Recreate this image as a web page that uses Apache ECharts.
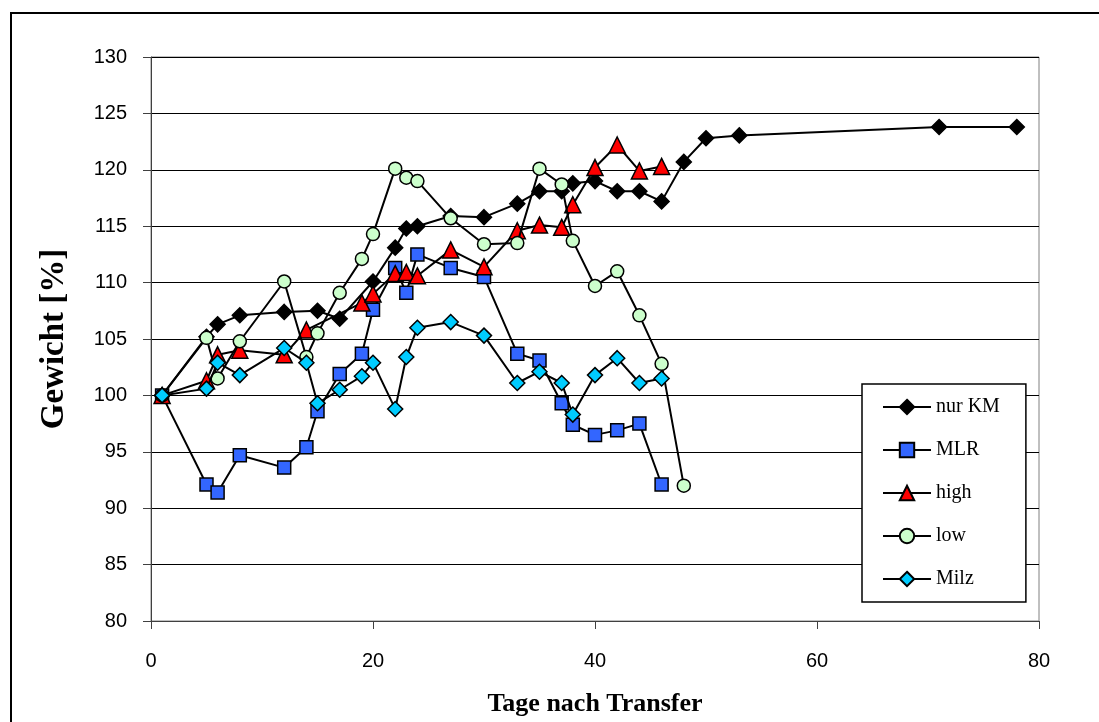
<!DOCTYPE html>
<html>
<head>
<meta charset="utf-8">
<script src="https://cdn.jsdelivr.net/npm/echarts@6/dist/echarts.min.js"></script>
<style>html,body{margin:0;padding:0;background:#fff;}#c{width:1099px;height:722px;}</style>
</head>
<body>
<div id="c"></div>
<script>
const seriesNames = ['nur KM', 'MLR', 'high', 'low', 'Milz'];
const xTitle = 'Tage nach Transfer';
const yTitle = 'Gewicht [%]';

const nurKM = [[1,100],[5,105.2],[6,106.3],[8,107.1],[12,107.4],[15,107.5],[17,106.8],[20,110.1],[22,113.1],[23,114.8],[24,115],[27,115.9],[30,115.8],[33,117],[35,118.1],[37,118.1],[38,118.8],[40,119],[42,118.1],[44,118.1],[46,117.2],[48,120.7],[50,122.8],[53,123.05],[71,123.8],[78,123.8]];
const mlr = [[1,100],[5,92.1],[6,91.4],[8,94.7],[12,93.6],[14,95.4],[15,98.6],[17,101.9],[19,103.7],[20,107.6],[22,111.3],[23,109.1],[24,112.5],[27,111.3],[30,110.5],[33,103.7],[35,103.1],[37,99.3],[38,97.4],[40,96.5],[42,96.9],[44,97.5],[46,92.1]];
const high = [[1,100],[5,101.3],[6,103.6],[8,104],[12,103.6],[14,105.8],[19,108.2],[20,109],[22,110.8],[23,110.9],[24,110.6],[27,112.9],[30,111.4],[33,114.6],[35,115.1],[37,114.9],[38,116.9],[40,120.2],[42,122.2],[44,119.9],[46,120.3]];
const low = [[1,100],[5,105.1],[6,101.5],[8,104.8],[12,110.1],[14,103.4],[15,105.5],[17,109.1],[19,112.1],[20,114.3],[22,120.1],[23,119.3],[24,119],[27,115.7],[30,113.4],[33,113.5],[35,120.1],[37,118.7],[38,113.7],[40,109.7],[42,111],[44,107.1],[46,102.8],[48,92]];
const milz = [[1,100],[5,100.6],[6,102.9],[8,101.8],[12,104.2],[14,102.9],[15,99.3],[17,100.5],[19,101.7],[20,102.9],[22,98.8],[23,103.4],[24,106],[27,106.5],[30,105.3],[33,101.1],[35,102.1],[37,101.1],[38,98.3],[40,101.8],[42,103.3],[44,101.1],[46,101.5]];

const datasets = [nurKM, mlr, high, low, milz];
const colors = ['#000000', '#3366FF', '#FF0000', '#CCFFCC', '#00CCFF'];
const symbols = ['diamond', 'rect', 'triangle', 'circle', 'diamond'];
const sizes = [15, 13, 16, 13, 15];

const chart = echarts.init(document.getElementById('c'), null, {renderer: 'canvas'});
const option = {
  animation: false,
  backgroundColor: '#ffffff',
  grid: {left: 151, right: 60, top: 57, bottom: 100, show: true, borderColor: '#808080', borderWidth: 1},
  xAxis: {
    type: 'value', min: 0, max: 80, interval: 20,
    name: xTitle, nameLocation: 'middle', nameGap: 70,
    nameTextStyle: {fontFamily: 'Liberation Serif', fontWeight: 'bold', fontSize: 26, color: '#000'},
    axisLine: {show: true, lineStyle: {color: '#404040', width: 1}},
    axisTick: {show: true, inside: false, length: 8, lineStyle: {color: '#404040'}},
    axisLabel: {fontFamily: 'Liberation Sans', fontSize: 20, color: '#000', margin: 30},
    splitLine: {show: false}
  },
  yAxis: {
    type: 'value', min: 80, max: 130, interval: 5,
    name: yTitle, nameLocation: 'middle', nameGap: 80, nameRotate: 90,
    nameTextStyle: {fontFamily: 'Liberation Serif', fontWeight: 'bold', fontSize: 33, color: '#000'},
    axisLine: {show: true, lineStyle: {color: '#404040', width: 1}},
    axisTick: {show: true, inside: false, length: 8, lineStyle: {color: '#404040'}},
    axisLabel: {fontFamily: 'Liberation Sans', fontSize: 20, color: '#000', margin: 24},
    splitLine: {show: true, lineStyle: {color: '#000', width: 1}}
  },
  legend: {
    orient: 'vertical', left: 862, top: 384,
    data: seriesNames,
    itemWidth: 48, itemHeight: 18, itemGap: 23,
    padding: [13, 26, 13, 20],
    borderColor: '#000', borderWidth: 1.5, backgroundColor: '#fff',
    textStyle: {fontFamily: 'Liberation Serif', fontSize: 20, color: '#000'}
  },
  series: datasets.map((d, i) => ({
    name: seriesNames[i], type: 'line', data: d,
    symbol: symbols[i], symbolSize: sizes[i], showAllSymbol: true,
    lineStyle: {color: '#000', width: 2},
    itemStyle: {color: colors[i], borderColor: '#000', borderWidth: 1.5},
    z: 2 + i
  })),
  graphic: [{
    type: 'rect', shape: {x: 11, y: 13, width: 1200, height: 800},
    style: {fill: 'none', stroke: '#000', lineWidth: 2}, silent: true
  }]
};
chart.setOption(option);
</script>
</body>
</html>
